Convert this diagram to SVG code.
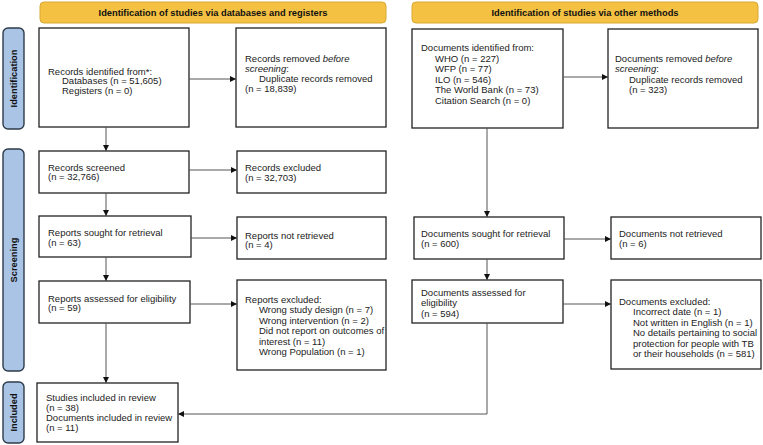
<svg xmlns="http://www.w3.org/2000/svg" width="763" height="445" viewBox="0 0 763 445">
<defs>
<marker id="ah" markerUnits="userSpaceOnUse" markerWidth="6" markerHeight="6" refX="6" refY="3" orient="auto">
<path d="M0,0 L6,3 L0,6 z" fill="#111"/>
</marker>
<style>
text{font-family:"Liberation Sans",Arial,sans-serif;font-size:9.5px;fill:#222}
.hdr rect{fill:#F4C142;stroke:#D9A934;stroke-width:1}
.hdr text{font-weight:bold;font-size:9.3px;text-anchor:middle;fill:#111}
.side rect{fill:#A9C4E5;stroke:#2E3B4A;stroke-width:1.4}
.side text{font-weight:bold;font-size:9.3px;text-anchor:middle;fill:#111}
.box rect{fill:#fff;stroke:#222;stroke-width:1.3}
.conn path,.conn line{stroke:#555;stroke-width:1;fill:none}
</style>
</defs>

<g id="hdr-db" class="hdr"><rect x="40" y="2" width="346" height="21" rx="4"/><text x="213" y="15.8">Identification of studies via databases and registers</text></g>
<g id="hdr-other" class="hdr"><rect x="412" y="2" width="346" height="21" rx="4"/><text x="585" y="15.8">Identification of studies via other methods</text></g>

<g id="side-identification" class="side"><rect x="3" y="28" width="21" height="101" rx="5"/><text transform="translate(16.8,78.5) rotate(-90)">Identification</text></g>
<g id="side-screening" class="side"><rect x="3" y="149" width="21" height="222" rx="5"/><text transform="translate(16.8,260) rotate(-90)">Screening</text></g>
<g id="side-included" class="side"><rect x="3" y="382" width="21" height="61" rx="5"/><text transform="translate(16.8,412.5) rotate(-90)">Included</text></g>

<g id="records-identified" class="box"><rect x="39" y="28" width="150" height="99"/>
<text x="48" y="74.5">Records identified from*:</text>
<text x="62" y="84.2">Databases (n = 51,605)</text>
<text x="62" y="93.9">Registers (n = 0)</text></g>

<g id="records-removed" class="box"><rect x="236" y="28" width="150" height="99"/>
<text x="245" y="61.5">Records removed <tspan font-style="italic">before</tspan></text>
<text x="245" y="71.8"><tspan font-style="italic">screening</tspan>:</text>
<text x="259" y="82.1">Duplicate records removed</text>
<text x="245" y="92.4">(n = 18,839)</text></g>

<g id="records-screened" class="box"><rect x="39" y="151" width="150" height="42"/>
<text x="48" y="170.5">Records screened</text>
<text x="48" y="180">(n = 32,766)</text></g>

<g id="records-excluded" class="box"><rect x="237" y="151" width="149" height="42"/>
<text x="245" y="171">Records excluded</text>
<text x="245" y="180.5">(n = 32,703)</text></g>

<g id="reports-sought" class="box"><rect x="39" y="216" width="152" height="41"/>
<text x="48" y="236">Reports sought for retrieval</text>
<text x="48" y="245.5">(n = 63)</text></g>

<g id="reports-not-retrieved" class="box"><rect x="237" y="217" width="149" height="42"/>
<text x="245" y="238.5">Reports not retrieved</text>
<text x="245" y="248">(n = 4)</text></g>

<g id="reports-assessed" class="box"><rect x="39" y="281" width="151" height="42"/>
<text x="48" y="301.5">Reports assessed for eligibility</text>
<text x="48" y="311">(n = 59)</text></g>

<g id="reports-excluded" class="box"><rect x="237" y="280" width="149" height="90"/>
<text x="245" y="302.5">Reports excluded:</text>
<text x="259" y="313">Wrong study design (n = 7)</text>
<text x="259" y="323.5">Wrong intervention (n = 2)</text>
<text x="259" y="334">Did not report on outcomes of</text>
<text x="259" y="344.5">interest (n = 11)</text>
<text x="259" y="355">Wrong Population (n = 1)</text></g>

<g id="studies-included" class="box"><rect x="37" y="383" width="141" height="59"/>
<text x="46" y="401">Studies included in review</text>
<text x="46" y="410.8">(n = 38)</text>
<text x="46" y="421.3">Documents included in review</text>
<text x="46" y="431">(n = 11)</text></g>

<g id="documents-identified" class="box"><rect x="412" y="29" width="151" height="99"/>
<text x="421" y="51">Documents identified from:</text>
<text x="435" y="61.5">WHO (n = 227)</text>
<text x="435" y="72">WFP (n = 77)</text>
<text x="435" y="82.5">ILO (n = 546)</text>
<text x="435" y="93">The World Bank (n = 73)</text>
<text x="435" y="103.5">Citation Search (n = 0)</text></g>

<g id="documents-removed" class="box"><rect x="608" y="29" width="150" height="99"/>
<text x="615" y="62">Documents removed <tspan font-style="italic">before</tspan></text>
<text x="615" y="72.3"><tspan font-style="italic">screening</tspan>:</text>
<text x="629" y="82.6">Duplicate records removed</text>
<text x="629" y="92.9">(n = 323)</text></g>

<g id="documents-sought" class="box"><rect x="414" y="217" width="150" height="42"/>
<text x="421" y="237">Documents sought for retrieval</text>
<text x="421" y="246.5">(n = 600)</text></g>

<g id="documents-not-retrieved" class="box"><rect x="611" y="217" width="150" height="42"/>
<text x="619" y="237">Documents not retrieved</text>
<text x="619" y="246.5">(n = 6)</text></g>

<g id="documents-assessed" class="box"><rect x="412" y="280" width="151" height="43"/>
<text x="421" y="295.5">Documents assessed for</text>
<text x="421" y="306">eligibility</text>
<text x="421" y="316.5">(n = 594)</text></g>

<g id="documents-excluded" class="box"><rect x="611" y="280" width="150" height="89"/>
<text x="619" y="304.5">Documents excluded:</text>
<text x="633" y="315">Incorrect date (n = 1)</text>
<text x="633" y="325.5">Not written in English (n = 1)</text>
<text x="633" y="336">No details pertaining to social</text>
<text x="633" y="346.5">protection for people with TB</text>
<text x="633" y="357">or their households (n = 581)</text></g>

<g id="connectors" class="conn">
<line x1="189" y1="79" x2="236" y2="79" marker-end="url(#ah)"/>
<line x1="106" y1="127" x2="106" y2="151" marker-end="url(#ah)"/>
<line x1="189" y1="170" x2="237" y2="170" marker-end="url(#ah)"/>
<line x1="106" y1="193" x2="106" y2="216" marker-end="url(#ah)"/>
<line x1="191" y1="238" x2="237" y2="238" marker-end="url(#ah)"/>
<line x1="106" y1="257" x2="106" y2="281" marker-end="url(#ah)"/>
<line x1="190" y1="304" x2="237" y2="304" marker-end="url(#ah)"/>
<line x1="106" y1="323" x2="106" y2="383" marker-end="url(#ah)"/>
<line x1="563" y1="77" x2="608" y2="77" marker-end="url(#ah)"/>
<line x1="487" y1="128" x2="487" y2="217" marker-end="url(#ah)"/>
<line x1="564" y1="239" x2="611" y2="239" marker-end="url(#ah)"/>
<line x1="487" y1="259" x2="487" y2="280" marker-end="url(#ah)"/>
<line x1="563" y1="304" x2="611" y2="304" marker-end="url(#ah)"/>
<path d="M487,323 V414 H178" marker-end="url(#ah)"/>
</g>
</svg>
